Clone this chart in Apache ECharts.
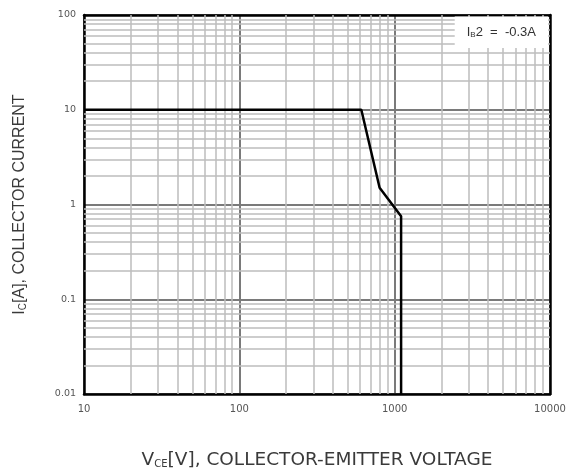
<!DOCTYPE html>
<html>
<head>
<meta charset="utf-8">
<script src="https://cdn.jsdelivr.net/npm/echarts@6/dist/echarts.min.js"></script>
<style>
  html, body { margin: 0; padding: 0; background: #fff; }
  #chart { width: 576px; height: 471px; }
</style>
</head>
<body>
<div id="chart"></div>
<script>
// safe operating area curve, VCE [V] vs IC [A]
var vce = [10, 610, 800, 1100, 1100]
var ic = [10, 10, 1.5, 0.75, 0.01]
var xTicks = [10, 100, 1000, 10000]
var yTicks = [0.01, 0.1, 1, 10, 100]
// minor grid multipliers inside each decade
var minorSteps = [2, 3, 4, 5, 6, 7, 8, 9]

var chart = echarts.init(document.getElementById('chart'))

var curve = []
for (var i = 0; i < vce.length; i++) {
  curve.push([vce[i], ic[i]])
}

// minor grid lines (2..9 x 10^n)
var gridLines = []
for (var d = 0; d < xTicks.length - 1; d++) {
  for (var k = 0; k < minorSteps.length; k++) {
    gridLines.push({ xAxis: xTicks[d] * minorSteps[k] })
  }
}
for (var d2 = 0; d2 < yTicks.length - 1; d2++) {
  for (var k2 = 0; k2 < minorSteps.length; k2++) {
    gridLines.push({ yAxis: yTicks[d2] * minorSteps[k2] })
  }
}

var font = 'Liberation Sans'
var wide = 'DejaVu Sans'

chart.setOption({
  backgroundColor: '#fff',
  animation: false,
  grid: { left: 84, right: 26, top: 15, bottom: 77, outerBoundsMode: 'none' },
  title: {
    right: 28,
    top: 16,
    backgroundColor: '#fff',
    padding: [9, 12, 9, 12],
    text: '{a|I}{s|B}{a|2  =  -0.3A}',
    textStyle: {
      rich: {
        a: { fontFamily: font, fontSize: 13, fontWeight: 'normal', color: '#333' },
        s: { fontFamily: font, fontSize: 8, fontWeight: 'normal', color: '#333', padding: [6, 0, 0, 0] }
      }
    }
  },
  xAxis: [
    {
      type: 'log',
      logBase: 10,
      min: 10,
      max: 10000,
      name: '{a|V}{s|CE}{a|[V], COLLECTOR-EMITTER VOLTAGE}',
      nameLocation: 'middle',
      nameGap: 57,
      nameTextStyle: {
        rich: {
          a: { fontFamily: wide, fontSize: 18.5, color: '#3a3a3a' },
          s: { fontFamily: wide, fontSize: 10, color: '#3a3a3a', padding: [7, 0, 0, 0] }
        }
      },
      axisLine: { show: true, lineStyle: { color: '#000', width: 2.5 } },
      axisTick: { show: false },
      axisLabel: {
        fontFamily: wide,
        fontSize: 10,
        color: '#555',
        margin: 10,
        formatter: function (v) { return String(v) }
      },
      splitLine: { show: true, lineStyle: { color: '#7a7a7a', width: 2 } }
    },
    {
      type: 'log',
      logBase: 10,
      min: 10,
      max: 10000,
      position: 'top',
      axisLine: { show: true, lineStyle: { color: '#000', width: 2.5 } },
      axisTick: { show: false },
      axisLabel: { show: false },
      splitLine: { show: false }
    }
  ],
  yAxis: [
    {
      type: 'log',
      logBase: 10,
      min: 0.01,
      max: 100,
      name: '{a|I}{s|C}{a|[A], COLLECTOR CURRENT}',
      nameLocation: 'middle',
      nameGap: 56,
      nameRotate: 90,
      nameTextStyle: {
        rich: {
          a: { fontFamily: font, fontSize: 16, color: '#3a3a3a' },
          s: { fontFamily: font, fontSize: 10, color: '#3a3a3a', padding: [6, 0, 0, 0] }
        }
      },
      axisLine: { show: true, lineStyle: { color: '#000', width: 2.5 } },
      axisTick: { show: false },
      axisLabel: {
        fontFamily: wide,
        fontSize: 9.5,
        color: '#555',
        margin: 8,
        formatter: function (v) { return String(v) }
      },
      splitLine: { show: true, lineStyle: { color: '#7a7a7a', width: 2 } }
    },
    {
      type: 'log',
      logBase: 10,
      min: 0.01,
      max: 100,
      position: 'right',
      axisLine: { show: true, lineStyle: { color: '#000', width: 2.5 } },
      axisTick: { show: false },
      axisLabel: { show: false },
      splitLine: { show: false }
    }
  ],
  series: [
    {
      name: 'grid',
      type: 'line',
      data: [],
      silent: true,
      z: 1,
      markLine: {
        silent: true,
        symbol: 'none',
        label: { show: false },
        lineStyle: { color: '#bdbdbd', width: 1.5, type: 'solid' },
        data: gridLines
      }
    },
    {
      name: 'SOA',
      type: 'line',
      data: curve,
      symbol: 'none',
      z: 5,
      lineStyle: { color: '#000', width: 2.5 }
    }
  ]
})
</script>
</body>
</html>
